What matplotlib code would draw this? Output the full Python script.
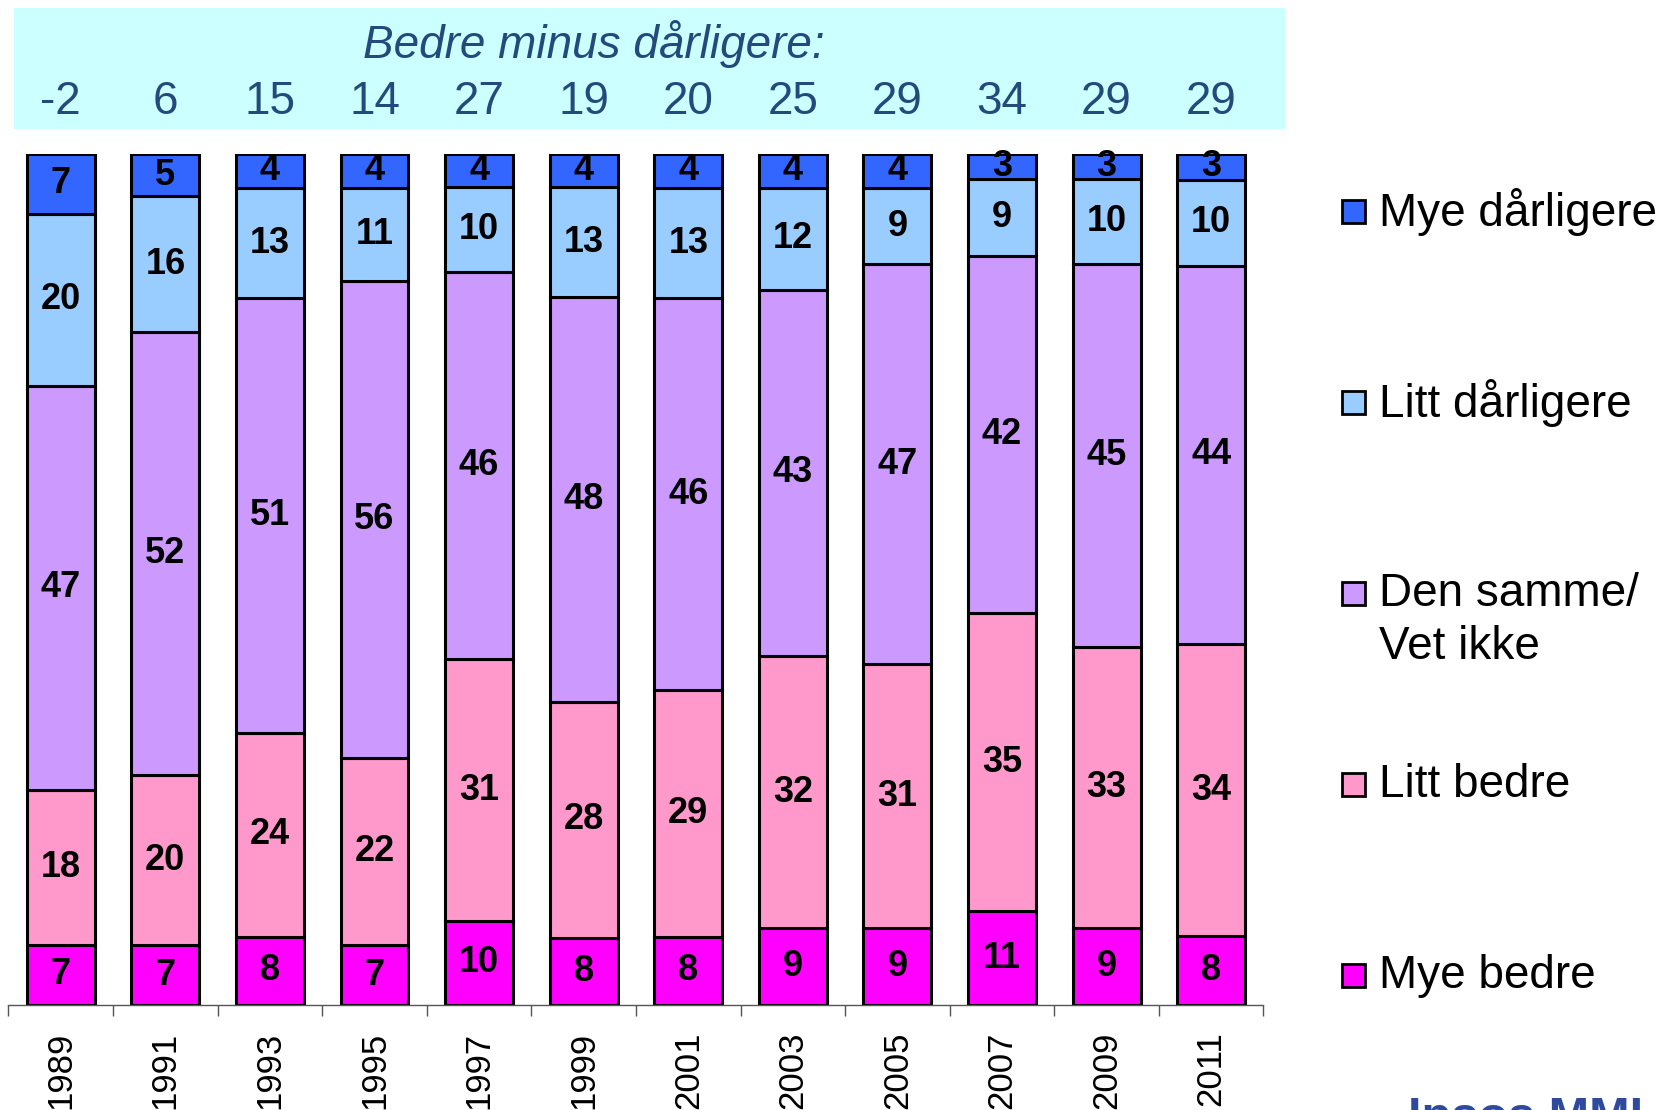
import numpy as np
import matplotlib
matplotlib.use("Agg")
import matplotlib.pyplot as plt
from matplotlib.patches import Rectangle
from matplotlib.transforms import blended_transform_factory

plt.rcParams['font.family'] = ['Liberation Sans', 'DejaVu Sans']

# data (percent)
years = ["1989", "1991", "1993", "1995", "1997", "1999", "2001", "2003", "2005", "2007", "2009", "2011"]
mye_bedre = [7, 7, 8, 7, 10, 8, 8, 9, 9, 11, 9, 8]
litt_bedre = [18, 20, 24, 22, 31, 28, 29, 32, 31, 35, 33, 34]
den_samme = [47, 52, 51, 56, 46, 48, 46, 43, 47, 42, 45, 44]
litt_darligere = [20, 16, 13, 11, 10, 13, 13, 12, 9, 9, 10, 10]
mye_darligere = [7, 5, 4, 4, 4, 4, 4, 4, 4, 3, 3, 3]
net_score = [-2, 6, 15, 14, 27, 19, 20, 25, 29, 34, 29, 29]

series_names = ["Mye bedre", "Litt bedre", "Den samme/\nVet ikke", "Litt dårligere", "Mye dårligere"]
series_colors = ["#FF00FF", "#FF99CC", "#CC99FF", "#99CCFF", "#3366FF"]
series_vals = [mye_bedre, litt_bedre, den_samme, litt_darligere, mye_darligere]

title_color = "#244a7c"

fig = plt.figure(figsize=(16.62, 11.10), dpi=100)

# header band (behind the axes so the net numbers show on top)
fig.patches.append(Rectangle((0.0083, 0.8835), 0.7647, 0.1089, transform=fig.transFigure,
                             facecolor="#CCFFFF", edgecolor="none", zorder=-1))
fig.text(0.357, 0.960, "Bedre minus dårligere:", ha="center", va="center",
         fontsize=33, style="italic", color=title_color)

ax = fig.add_axes([0.0051, 0.0946, 0.7551, 0.7669])
ax.patch.set_alpha(0)

x = np.arange(len(years))
vals = np.array(series_vals, dtype=float)
# rounded percentages don't always sum to 100; scale each column so stacks fill 100
totals = vals.sum(axis=0)
heights = vals / totals * 100

bottom = np.zeros(len(years))
for i, name in enumerate(series_names):
    ax.bar(x, heights[i], 0.65, bottom=bottom, color=series_colors[i],
           edgecolor="black", linewidth=2.2, zorder=2)
    for xi, b, h, v in zip(x, bottom, heights[i], vals[i]):
        ax.text(xi, b + h / 2, f"{int(v)}", ha="center", va="center",
                fontsize=26, fontweight="bold", color="black", zorder=3)
    bottom += heights[i]

ax.set_xlim(-0.5, len(years) - 0.5)
ax.set_ylim(0, 100)

# net score row in header
trans = blended_transform_factory(ax.transData, fig.transFigure)
for xi, n in zip(x, net_score):
    ax.text(xi, 0.908, str(n), transform=trans, ha="center", va="center",
            fontsize=33, color=title_color, clip_on=False)

for side in ["top", "right", "left"]:
    ax.spines[side].set_visible(False)
ax.spines["bottom"].set_color("#555555")
ax.spines["bottom"].set_linewidth(1)
ax.set_yticks([])

ax.set_xticks(x)
ax.set_xticklabels(years, rotation=90, fontsize=25, va="top")
ax.tick_params(axis="x", which="major", length=0, pad=19)
ax.set_xticks(np.arange(-0.5, len(years)), minor=True)
ax.tick_params(axis="x", which="minor", length=8, width=1, color="#555555", direction="out")

# legend, drawn by hand to match spacing
leg_y = [0.121, 0.293, 0.465, 0.637, 0.809]
for name, col, y in zip(series_names, series_colors, leg_y):
    fig.patches.append(Rectangle((0.8075, y - 0.0103), 0.0138, 0.0207, transform=fig.transFigure,
                                 facecolor=col, edgecolor="black", linewidth=2))
    for k, line in enumerate(name.split("\n")):
        fig.text(0.830, y - k * 0.048, line, ha="left", va="center", fontsize=33, color="black")

# logo, cut off at the bottom edge like the source
fig.text(0.847, 0.0125, "Ipsos MMI", ha="left", va="top", fontsize=35,
         fontweight="bold", color="#2E4A9E")

fig.savefig("out.png", dpi=100)
